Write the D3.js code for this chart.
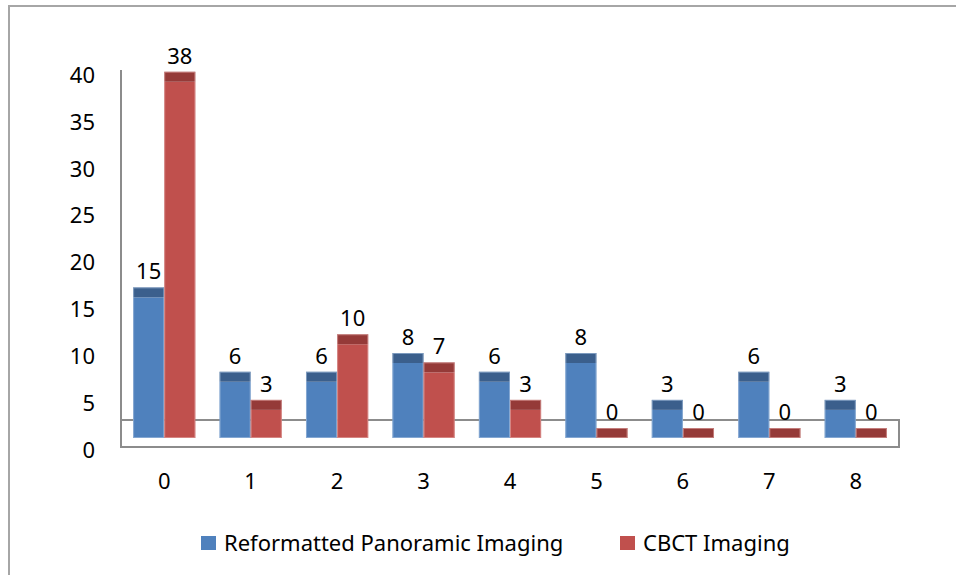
<!DOCTYPE html>
<html>
<head>
<meta charset="utf-8">
<script src="https://cdn.jsdelivr.net/npm/d3@7"></script>
<style>
  body { margin: 0; background: #fff; }
  svg text { font-family: "Noto Sans", sans-serif; fill: #000; }
</style>
</head>
<body>
<svg id="chart" width="956" height="575"></svg>
<script>
// data
var categories = ['0', '1', '2', '3', '4', '5', '6', '7', '8'];
var panoramic = [15, 6, 6, 8, 6, 8, 3, 6, 3];
var cbct = [38, 3, 10, 7, 3, 0, 0, 0, 0];
var seriesNames = ['Reformatted Panoramic Imaging', 'CBCT Imaging'];
var yTicks = [0, 5, 10, 15, 20, 25, 30, 35, 40];

var frontColors = ['#4f81bd', '#c0504d'];
var capColors = ['#3b5f8c', '#953a38'];
var edgeColors = ['#a9c1e0', '#e3a9a7'];

var left = 121, right = 899;
var floorTop = 420, floorBottom = 447, barBase = 438;
var capH = 10;
var fontSize = '22px';

var svg = d3.select('#chart');

// outer frame (only top and left visible)
svg.append('path')
  .attr('d', 'M9,576 L9,6 L957,6')
  .attr('fill', 'none')
  .attr('stroke', '#a6a6a6')
  .attr('stroke-width', 2);

var x = d3.scaleBand().domain(categories).range([left, right])
  .paddingInner(0.28).paddingOuter(0.14);
var xs = d3.scaleBand().domain([0, 1]).range([0, x.bandwidth()]);

// axis labels read against front edge, bars against their own base
var yAxisScale = d3.scaleLinear().domain([0, 40]).range([450, 75]);
var yBar = d3.scaleLinear().domain([0, 40]).range([barBase, barBase - 375]);

// floor box + vertical wall line
svg.append('rect')
  .attr('x', left).attr('y', floorTop)
  .attr('width', right - left).attr('height', floorBottom - floorTop)
  .attr('fill', 'none').attr('stroke', '#8c8c8c').attr('stroke-width', 2);
svg.append('line')
  .attr('x1', left).attr('x2', left).attr('y1', 70).attr('y2', floorBottom)
  .attr('stroke', '#8c8c8c').attr('stroke-width', 2);

// y axis labels
var yAxis = d3.axisLeft(yAxisScale).tickValues(yTicks).tickSize(0).tickPadding(26);
var gy = svg.append('g').attr('transform', 'translate(' + left + ',0)').call(yAxis);
gy.select('.domain').remove();
gy.selectAll('text').style('font-size', fontSize).style('font-family', '"Noto Sans", sans-serif')
  .attr('dy', '0.33em');

// x axis labels
var xAxis = d3.axisBottom(x).tickSize(0).tickPadding(26);
var gx = svg.append('g').attr('transform', 'translate(0,' + floorBottom + ')').call(xAxis);
gx.select('.domain').remove();
gx.selectAll('text').style('font-size', fontSize).style('font-family', '"Noto Sans", sans-serif');

var rows = [];
categories.forEach(function(c, i) {
  rows.push({ cat: c, s: 0, v: panoramic[i] });
  rows.push({ cat: c, s: 1, v: cbct[i] });
});

var bars = svg.selectAll('g.bar').data(rows).enter().append('g').attr('class', 'bar')
  .attr('transform', function(d) { return 'translate(' + (x(d.cat) + xs(d.s)) + ',0)'; });

bars.append('rect')
  .attr('x', 0).attr('width', xs.bandwidth())
  .attr('y', function(d) { return yBar(d.v); })
  .attr('height', function(d) { return barBase - yBar(d.v); })
  .attr('fill', function(d) { return frontColors[d.s]; });

bars.append('rect')
  .attr('x', 0).attr('width', xs.bandwidth())
  .attr('y', function(d) { return yBar(d.v) - capH; })
  .attr('height', capH)
  .attr('fill', function(d) { return capColors[d.s]; });

bars.append('rect')
  .attr('x', 0.5).attr('width', xs.bandwidth() - 1)
  .attr('y', function(d) { return yBar(d.v) - capH + 0.5; })
  .attr('height', function(d) { return barBase - yBar(d.v) + capH - 1; })
  .attr('fill', 'none')
  .attr('stroke', function(d) { return edgeColors[d.s]; })
  .attr('stroke-opacity', 0.6)
  .attr('stroke-width', 1);

bars.append('text')
  .attr('x', xs.bandwidth() / 2)
  .attr('y', function(d) { return yBar(d.v) - capH - 8; })
  .attr('text-anchor', 'middle')
  .style('font-size', fontSize)
  .text(function(d) { return d.v; });

// legend
var legendX = [201, 620];
var legend = svg.selectAll('g.legend').data(seriesNames).enter().append('g').attr('class', 'legend')
  .attr('transform', function(d, i) { return 'translate(' + legendX[i] + ',536)'; });
legend.append('rect').attr('width', 15).attr('height', 14)
  .attr('fill', function(d, i) { return frontColors[i]; });
legend.append('text').attr('x', 23).attr('y', 15)
  .style('font-size', fontSize)
  .text(function(d) { return d; });
</script>
</body>
</html>
